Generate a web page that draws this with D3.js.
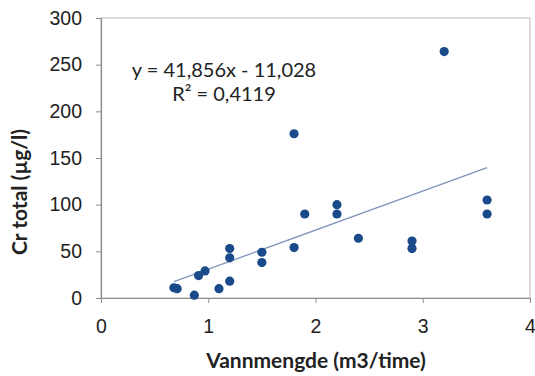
<!DOCTYPE html>
<html>
<head>
<meta charset="utf-8">
<script src="https://cdn.jsdelivr.net/npm/d3@7"></script>
<style>
   body { margin: 0; background: #fff; }
   svg { display: block; font-family: Lato, "Open Sans", sans-serif; }
</style>
</head>
<body>
<div id="chart"></div>
<script>
// DATA
var flow = [0.68, 0.71, 0.87, 0.91, 0.97, 1.1, 1.2, 1.2, 1.2, 1.5, 1.5, 1.8, 1.8, 1.9, 2.2, 2.2, 2.4, 2.9, 2.9, 3.2, 3.6, 3.6];
var crTotal = [11, 10, 3, 24, 29, 10, 18, 43, 53, 49, 38, 54, 176, 90, 100, 90, 64, 61, 53, 264, 105, 90];
var xTicks = [0, 1, 2, 3, 4];
var yTicks = [0, 50, 100, 150, 200, 250, 300];
var trend = { slope: 41.856, intercept: -11.028 };
var equation = ['y = 41,856x - 11,028', 'R² = 0,4119'];

// SETTINGS
var settings = {
   width: 535,
   height: 376,
   margin: { top: 18, right: 5, bottom: 78, left: 101 },
   dot: '#1a4a8a',
   line: '#7f95b9',
   axis: '#8c8c8c',
   border: '#c4c4c4'
};

var w = settings.width - settings.margin.left - settings.margin.right;
var h = settings.height - settings.margin.top - settings.margin.bottom;

var svg = d3.select('#chart').append('svg')
   .attr('width', settings.width)
   .attr('height', settings.height)

var g = svg.append('g')
   .attr('transform', 'translate(' + settings.margin.left + ',' + settings.margin.top + ')')

// SCALES
var xScale = d3.scaleLinear().domain([0, 4]).range([0, w])
var yScale = d3.scaleLinear().domain([0, 300]).range([h, 0])

// PLOT BORDER
g.append('rect')
   .attr('width', w)
   .attr('height', h)
   .attr('fill', 'none')
   .attr('stroke', settings.border)
   .attr('stroke-width', 1.2)

// AXES
var xAxis = g.append('g')
   .attr('transform', 'translate(0,' + h + ')')
   .call(d3.axisBottom(xScale).tickValues(xTicks).tickSize(5).tickSizeOuter(0).tickPadding(12).tickFormat(d3.format('d')))

var yAxis = g.append('g')
   .call(d3.axisLeft(yScale).tickValues(yTicks).tickSize(5).tickSizeOuter(0).tickPadding(14).tickFormat(d3.format('d')))

;[xAxis, yAxis].forEach(ax => {
   ax.select('.domain').attr('stroke', settings.axis).attr('stroke-width', 1.2)
   ax.selectAll('.tick line').attr('stroke', settings.axis)
   ax.selectAll('.tick text').attr('fill', '#222').style('font-size', '19.5px')
})
xAxis.selectAll('.tick text').attr('dy', '0.9em')

// TREND LINE
var x0 = d3.min(flow), x1 = d3.max(flow);
g.append('line')
   .attr('x1', xScale(x0))
   .attr('y1', yScale(trend.slope * x0 + trend.intercept))
   .attr('x2', xScale(x1))
   .attr('y2', yScale(trend.slope * x1 + trend.intercept))
   .attr('stroke', settings.line)
   .attr('stroke-width', 1.3)

// POINTS
g.selectAll('circle')
   .data(flow)
   .enter().append('circle')
      .attr('cx', (d) => xScale(d))
      .attr('cy', (d, i) => yScale(crTotal[i]))
      .attr('r', 4.6)
      .attr('fill', settings.dot)

// EQUATION LABEL
g.selectAll('.eq')
   .data(equation)
   .enter().append('text')
      .attr('class', 'eq')
      .attr('x', 123)
      .attr('y', (d, i) => 59 + i * 24)
      .attr('text-anchor', 'middle')
      .attr('fill', '#222')
      .style('font-size', '20px')
      .text(d => d)

// AXIS TITLES
svg.append('text')
   .attr('x', 316)
   .attr('y', 368)
   .attr('text-anchor', 'middle')
   .attr('font-weight', 'bold')
   .attr('fill', '#222')
   .style('font-size', '21px')
   .text('Vannmengde (m3/time)')

svg.append('text')
   .attr('transform', 'translate(27,192) rotate(-90)')
   .attr('text-anchor', 'middle')
   .attr('font-weight', 'bold')
   .attr('fill', '#222')
   .style('font-size', '21px')
   .text('Cr total (µg/l)')
</script>
</body>
</html>
